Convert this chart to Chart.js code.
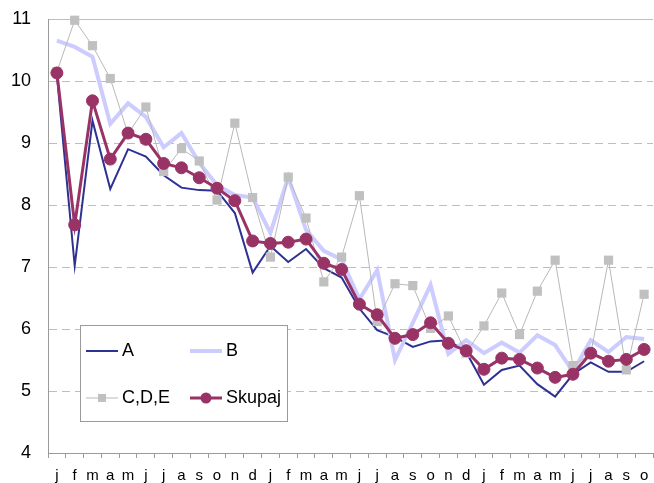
<!DOCTYPE html>
<html>
<head>
<meta charset="utf-8">
<script src="https://cdn.jsdelivr.net/npm/chart.js@4.4.1/dist/chart.umd.min.js"></script>
<style>
  html, body { margin: 0; padding: 0; overflow: hidden; background: #fff; }
  #wrap { width: 660px; height: 483px; }
</style>
</head>
<body>
<div id="wrap"><canvas id="chart" width="660" height="483"></canvas></div>
<script>
// mjeseci (j f m a m j j a s o n d) kroz tri godine
const labels = ['j','f','m','a','m','j','j','a','s','o','n','d',
                'j','f','m','a','m','j','j','a','s','o','n','d',
                'j','f','m','a','m','j','j','a','s','o'];

const seriesA = [10.10, 7.02, 9.36, 8.26, 8.90, 8.78, 8.48, 8.28, 8.24, 8.23,
                 7.87, 6.91, 7.34, 7.08, 7.29, 6.98, 6.83, 6.33, 5.98, 5.87,
                 5.71, 5.80, 5.82, 5.63, 5.10, 5.34, 5.41, 5.11, 4.91, 5.27,
                 5.46, 5.31, 5.31, 5.48];
const seriesB = [10.65, 10.55, 10.39, 9.31, 9.64, 9.42, 8.93, 9.16, 8.68, 8.32,
                 8.16, 8.12, 7.55, 8.45, 7.60, 7.26, 7.12, 6.48, 6.95, 5.50,
                 6.10, 6.71, 5.60, 5.82, 5.61, 5.78, 5.62, 5.90, 5.74, 5.31,
                 5.82, 5.63, 5.87, 5.84];
const seriesCDE = [10.15, 10.98, 10.57, 10.04, 9.15, 9.58, 8.54, 8.91, 8.71, 8.08,
                   9.32, 8.12, 7.16, 8.45, 7.79, 6.76, 7.16, 8.15, 6.12, 6.73,
                   6.70, 6.01, 6.21, 5.61, 6.05, 6.58, 5.91, 6.61, 7.11, 5.41,
                   5.60, 7.11, 5.34, 6.56];
const seriesSkupaj = [10.13, 7.68, 9.68, 8.74, 9.16, 9.06, 8.67, 8.60, 8.44, 8.27,
                      8.07, 7.42, 7.38, 7.40, 7.45, 7.06, 6.96, 6.40, 6.23, 5.85,
                      5.91, 6.10, 5.77, 5.65, 5.35, 5.53, 5.51, 5.37, 5.22, 5.27,
                      5.61, 5.48, 5.51, 5.67];

const yMin = 4, yMax = 11;
const FONT = '"Liberation Sans", Arial, sans-serif';

// legenda u okviru, 2 x 2
const boxLegend = {
  id: 'boxLegend',
  afterDraw(chart) {
    const ctx = chart.ctx;
    const ds = chart.data.datasets;
    const slots = [[86, 351], [190, 351], [86, 398], [190, 398]];
    ctx.save();
    ctx.fillStyle = '#fff';
    ctx.fillRect(80.5, 325.5, 207, 96);
    ctx.strokeStyle = '#9a9a9a';
    ctx.lineWidth = 1;
    ctx.strokeRect(80.5, 325.5, 207, 96);

    ds.forEach((d, i) => {
      const [x, y] = slots[i];
      ctx.strokeStyle = d.borderColor;
      ctx.lineWidth = d.borderWidth;
      ctx.beginPath();
      ctx.moveTo(x, y);
      ctx.lineTo(x + 32, y);
      ctx.stroke();
      if (d.pointRadius > 0) {
        ctx.fillStyle = d.pointBackgroundColor;
        if (d.pointStyle === 'rect') {
          ctx.fillRect(x + 12, y - 4, 8, 8);
        } else {
          ctx.beginPath();
          ctx.arc(x + 16, y, 5.5, 0, Math.PI * 2);
          ctx.fill();
        }
      }
      ctx.fillStyle = '#000';
      ctx.font = '18px ' + FONT;
      ctx.textBaseline = 'middle';
      ctx.textAlign = 'left';
      ctx.fillText(d.label, x + 36, y);
    });
    ctx.restore();
  }
};

new Chart(document.getElementById('chart'), {
  type: 'line',
  data: {
    labels: labels,
    datasets: [
      {
        label: 'A', data: seriesA, order: 4,
        borderColor: '#2E3192', borderWidth: 2,
        pointRadius: 0, clip: false
      },
      {
        label: 'B', data: seriesB, order: 3,
        borderColor: '#CCCCFF', borderWidth: 4,
        pointRadius: 0, clip: false
      },
      {
        label: 'C,D,E', data: seriesCDE, order: 2,
        borderColor: '#B8B8B8', borderWidth: 1,
        pointStyle: 'rect', pointRadius: 6.5,
        pointBackgroundColor: '#C0C0C0', pointBorderWidth: 0,
        clip: false
      },
      {
        label: 'Skupaj', data: seriesSkupaj, order: 1,
        borderColor: '#993366', borderWidth: 3,
        pointStyle: 'circle', pointRadius: 6,
        pointBackgroundColor: '#993366', pointBorderColor: '#993366',
        pointBorderWidth: 1, clip: false
      }
    ]
  },
  options: {
    responsive: false,
    animation: false,
    layout: { padding: { top: 19, right: 0, left: 0, bottom: 0 } },
    plugins: {
      legend: { display: false },
      tooltip: { enabled: false }
    },
    elements: { line: { tension: 0 } },
    scales: {
      x: {
        offset: true,
        grid: {
          offset: true,
          drawOnChartArea: false,
          drawTicks: true,
          tickLength: 5,
          color: '#9a9a9a'
        },
        border: { color: '#9a9a9a', width: 1 },
        ticks: {
          autoSkip: false,
          maxRotation: 0,
          padding: 9,
          color: '#000',
          font: { family: FONT, size: 15 }
        },
        afterFit: s => { s.height = 30; }
      },
      y: {
        min: yMin,
        max: yMax,
        ticks: {
          stepSize: 1,
          padding: 17,
          color: '#000',
          font: { family: FONT, size: 18 }
        },
        grid: {
          drawTicks: false,
          color: '#BEBEBE',
          lineWidth: 1
        },
        border: {
          color: '#9a9a9a',
          width: 1,
          dash: ctx => (ctx.tick && ctx.tick.value === yMax) ? [] : [8, 5]
        },
        afterFit: s => {
          s.width = 48;
          // oznake ne smiju pomicati vrh i dno područja crtanja
          s.paddingTop = 0;
          s.paddingBottom = 0;
        }
      }
    }
  },
  plugins: [boxLegend]
});
</script>
</body>
</html>
